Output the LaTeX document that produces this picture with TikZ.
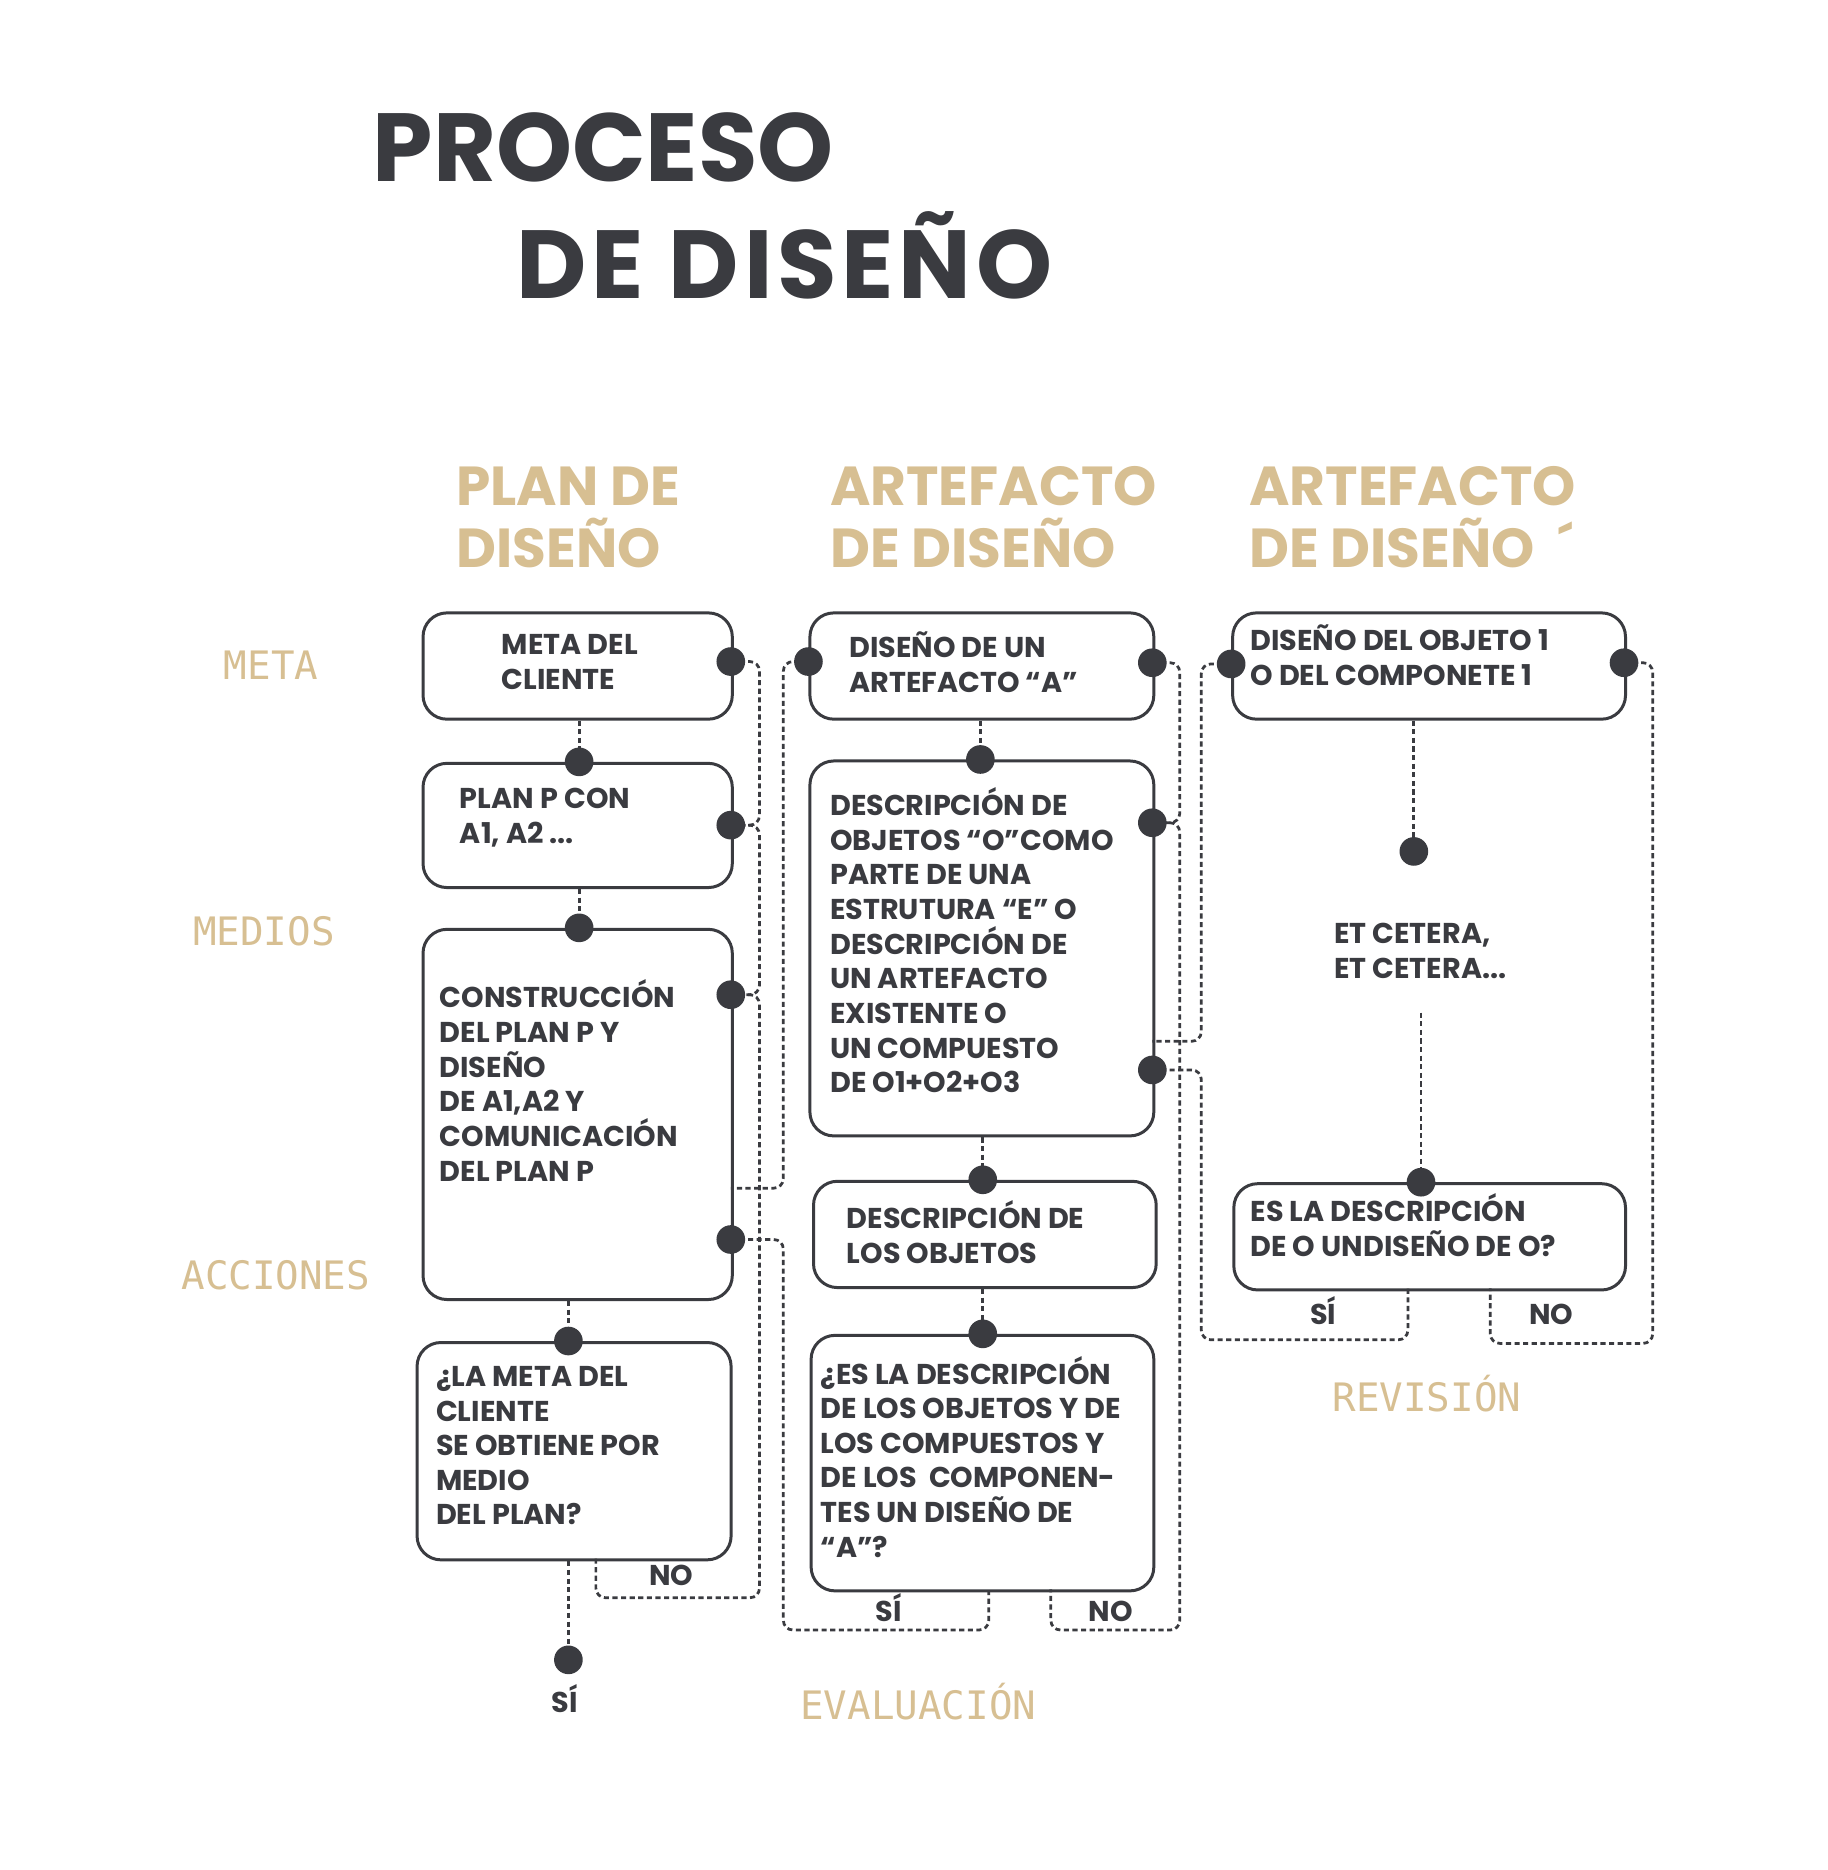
\documentclass[tikz,border=0pt]{standalone}
\usepackage{fontspec}
\setmainfont{Poppins}
\newfontfamily\monofont{DejaVu Sans Mono}
\usetikzlibrary{calc}
\definecolor{ink}{RGB}{58,59,64}
\definecolor{sand}{RGB}{215,191,146}
\tikzset{
    box/.style={draw=ink, line width=2.5pt, rounded corners=20pt, inner sep=0pt, anchor=north west},
    dot/.style={circle, fill=ink, inner sep=0pt, minimum size=24pt},
    dashln/.style={draw=ink, line width=2.3pt, dash pattern=on 4.3pt off 2.9pt, rounded corners=8pt},
    txt/.style={anchor=base west, inner sep=0pt, align=left, text=ink, font=\bfseries\fontsize{24}{29}\selectfont},
    yn/.style={anchor=base, inner sep=0pt, text=ink, font=\bfseries\fontsize{24}{29}\selectfont},
    head/.style={anchor=base west, inner sep=0pt, align=left, text=sand, font=\bfseries\fontsize{46}{52}\selectfont},
    title/.style={anchor=base west, inner sep=0pt, text=ink, font=\bfseries\fontsize{81}{98}\selectfont},
    row/.style={anchor=base, inner sep=0pt, text=sand, font=\monofont\fontsize{32.8}{36}\selectfont}
}
\begin{document}
\begin{tikzpicture}[x=1pt, y=-1pt]
\fill[white] (0,0) rectangle (1530,1566);
\useasboundingbox (0,0) rectangle (1530,1566);
\node[title] (t1) at (312,152) {PROCESO};
\node[title] (t2) at (432,250) {\addfontfeature{LetterSpace=5}DE DISEÑO};
\node[head] (h1) at (382,475) {PLAN DE\\DISEÑO};
\node[head] (h2) at (695,475) {ARTEFACTO\\DE DISEÑO};
\node[head] (h3) at (1046,475) {ARTEFACTO\\DE DISEÑO ~´};
\node[row] (r1) at (227,569) {META};
\node[row] (r2) at (221,792) {MEDIOS};
\node[row] (r3) at (231,1080) {ACCIONES};
\node[row] (r4) at (1195,1182) {REVISIÓN};
\node[row] (r5) at (769,1440) {EVALUACIÓN};
\node[box, minimum width=259pt, minimum height=89pt] (B1) at (353,512) {};
\node[box, minimum width=259pt, minimum height=104pt] (B2) at (353,638) {};
\node[box, minimum width=259pt, minimum height=310pt] (B3) at (353,777) {};
\node[box, minimum width=263pt, minimum height=182pt] (B4) at (348,1123) {};
\node[box, minimum width=288pt, minimum height=89pt] (C1) at (677,512) {};
\node[box, minimum width=288pt, minimum height=314pt] (C2) at (677,636) {};
\node[box, minimum width=287pt, minimum height=89pt] (C3) at (680,988) {};
\node[box, minimum width=287pt, minimum height=214pt] (C4) at (678,1117) {};
\node[box, minimum width=329pt, minimum height=89pt] (D1) at (1031,512) {};
\node[box, minimum width=328pt, minimum height=89pt] (D2) at (1032,990) {};
\node[txt] (tB1) at (420,577) {META DEL\\CLIENTE};
\node[txt] (tB2) at (385,706) {PLAN P CON\\A1, A2 ...};
\node[txt] (tB3) at (368,989) {CONSTRUCCIÓN\\DEL PLAN P Y\\DISEÑO\\DE A1,A2 Y\\COMUNICACIÓN\\DEL PLAN P};
\node[txt] (tB4) at (365,1277) {¿LA META DEL\\CLIENTE\\SE OBTIENE POR\\MEDIO\\DEL PLAN?};
\node[txt] (tC1) at (711,580) {DISEÑO DE UN\\ARTEFACTO “A”};
\node[txt] (tC2) at (695,915) {DESCRIPCIÓN DE\\OBJETOS “O”COMO\\PARTE DE UNA\\ESTRUTURA “E” O\\DESCRIPCIÓN DE\\UN ARTEFACTO\\EXISTENTE O\\UN COMPUESTO\\DE O1+O2+O3};
\node[txt] (tC3) at (709,1058) {DESCRIPCIÓN DE\\LOS OBJETOS};
\node[txt] (tC4) at (687,1304) {¿ES LA DESCRIPCIÓN\\DE LOS OBJETOS Y DE\\LOS COMPUESTOS Y\\DE LOS~ COMPONEN-\\TES UN DISEÑO DE\\“A”?};
\node[txt] (tD1) at (1047,574) {DISEÑO DEL OBJETO 1\\O DEL COMPONETE 1};
\node[txt] (tet) at (1117,819) {ET CETERA,\\ET CETERA...};
\node[txt] (tD2) at (1047,1052) {ES LA DESCRIPCIÓN\\DE O UNDISEÑO DE O?};
\node[yn] (no1) at (562,1328) {NO};
\node[yn] (si1) at (473,1434) {SÍ};
\node[yn] (si2) at (744,1358) {SÍ};
\node[yn] (no2) at (930,1358) {NO};
\node[yn] (si3) at (1108,1109) {SÍ};
\node[yn] (no3) at (1299,1109) {NO};
\coordinate (d1) at (612,554);
\coordinate (d2) at (485,638);
\coordinate (d3) at (612,691);
\coordinate (d4) at (485,777);
\coordinate (d5) at (612,833);
\coordinate (d6) at (612,1038);
\coordinate (d7) at (476,1123);
\coordinate (d8) at (476,1390);
\coordinate (e1) at (677,554);
\coordinate (e2) at (965,555);
\coordinate (e3) at (821,636);
\coordinate (e4) at (965,689);
\coordinate (e5) at (965,896);
\coordinate (e6) at (823,988);
\coordinate (e7) at (823,1117);
\coordinate (f1) at (1031,556);
\coordinate (f2) at (1360,555);
\coordinate (f3) at (1184,713);
\coordinate (f4) at (1190,990);
\coordinate (k1) at (636,1338);
\coordinate (n1) at (499,1305);
\coordinate (k2) at (656,995);
\coordinate (m2) at (612,995);
\coordinate (k3) at (656,1365);
\coordinate (n3) at (828,1331);
\coordinate (k5) at (988,1365);
\coordinate (n5) at (880,1331);
\coordinate (k6) at (1006,872);
\coordinate (m6) at (965,872);
\coordinate (k7) at (1006,1122);
\coordinate (n7) at (1179,1079);
\coordinate (k8) at (1384,1125);
\coordinate (n8) at (1248,1079);
\coordinate (k9) at (1190,848);
\draw[dashln] (d2 |- B1.south) -- (d2);
\draw[dashln] (d4 |- B2.south) -- (d4);
\draw[dashln] (d7 |- B3.south) -- (d7);
\draw[dashln] (d8 |- B4.south) -- (d8);
\draw[dashln] (e3 |- C1.south) -- (e3);
\draw[dashln] (e6 |- C2.south) -- (e6);
\draw[dashln] (e7 |- C3.south) -- (e7);
\draw[dashln] (f3 |- D1.south) -- (f3);
\draw[dashln] (k9) -- (f4);
\draw[dashln] (d1) -| ($(d3)+(24,0)$) -- (d3);
\draw[dashln] (d3) -| ($(d5)+(24,0)$) -- (d5);
\draw[dashln] (d5) -| (k1) -| (n1);
\draw[dashln] (e1) -| (k2) -- (m2);
\draw[dashln] (d6) -| (k3) -| (n3);
\draw[dashln] (e2) -| ($(e4)+(23,0)$) -- (e4);
\draw[dashln] (e4) -| (k5) -| (n5);
\draw[dashln] (f1) -| (k6) -- (m6);
\draw[dashln] (e5) -| (k7) -| (n7);
\draw[dashln] (f2) -| (k8) -| (n8);
\foreach \p in {d1,d2,d3,d4,d5,d6,d7,d8,e1,e2,e3,e4,e5,e6,e7,f1,f2,f3,f4}
    \node[dot] at (\p) {};
\end{tikzpicture}
\end{document}
